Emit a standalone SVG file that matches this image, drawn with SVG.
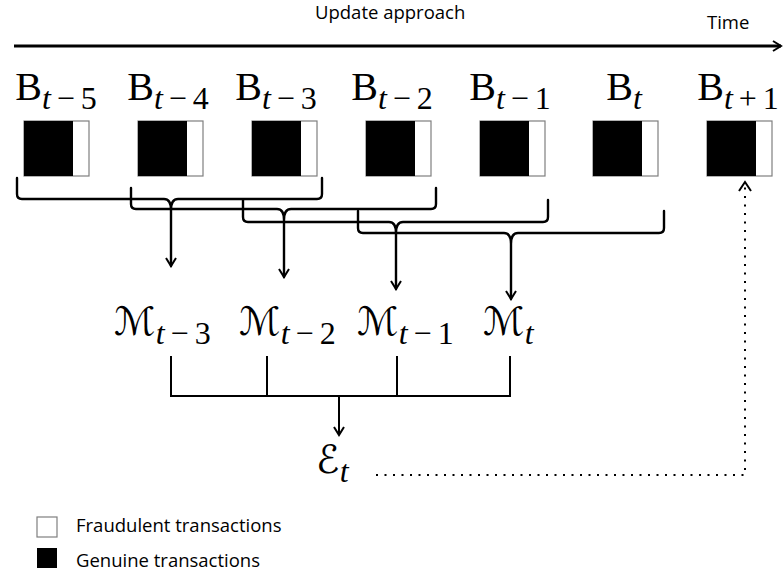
<svg xmlns="http://www.w3.org/2000/svg" width="784" height="576" viewBox="0 0 784 576">
  <style>
    .ui { font-family: "Open Sans", "Liberation Sans", sans-serif; fill: #000; }
    .title { font-size: 18.5px; }
    .legend { font-size: 18.5px; }
    .math { font-family: "Liberation Serif", "DejaVu Serif", serif; fill: #000; }
    .big { font-size: 40px; }
    .sub { font-size: 32px; }
    .it { font-style: italic; }
    .script { font-family: "DejaVu Serif", "DejaVu Sans", "Liberation Serif", serif; font-size: 39px; }
    .brace { fill: none; stroke: #000; stroke-width: 2.4; stroke-linecap: round; stroke-linejoin: round; }
    .join { fill: none; stroke: #000; stroke-width: 2; }
    .dots { fill: none; stroke: #000; stroke-width: 2; stroke-dasharray: 2 6.5; }
    .batch-black { fill: #000; }
    .batch-frame { fill: #fff; stroke: #7f7f7f; stroke-width: 1.2; }
  </style>
  <defs>
    <marker id="open-arrow" viewBox="0 0 12 12" refX="10" refY="6" markerWidth="12" markerHeight="12" markerUnits="userSpaceOnUse" orient="auto">
      <path d="M2,1 L10,6 L2,11" fill="none" stroke="#000" stroke-width="2"/>
    </marker>
    <g id="batch">
      <rect class="batch-frame" x="0" y="0" width="65" height="55"/>
      <rect class="batch-black" x="0" y="0" width="49" height="55"/>
    </g>
  </defs>
  <rect width="784" height="576" fill="#fff"/>

  <!-- time axis -->
  <g id="time-axis">
    <text class="ui title" x="315" y="19">Update approach</text>
    <text class="ui title" x="707" y="29">Time</text>
    <line x1="14" y1="46" x2="781" y2="46" stroke="#000" stroke-width="3" marker-end="url(#open-arrow)"/>
  </g>

  <!-- batches -->
  <g id="batch-t-5">
    <text class="math big" x="56" y="100" text-anchor="middle">B<tspan class="sub" dy="9"><tspan class="it">t</tspan><tspan dx="6">−</tspan><tspan dx="6">5</tspan></tspan></text>
    <use href="#batch" x="24" y="121"/>
  </g>
  <g id="batch-t-4">
    <text class="math big" x="168" y="100" text-anchor="middle">B<tspan class="sub" dy="9"><tspan class="it">t</tspan><tspan dx="6">−</tspan><tspan dx="6">4</tspan></tspan></text>
    <use href="#batch" x="138" y="121"/>
  </g>
  <g id="batch-t-3">
    <text class="math big" x="276" y="100" text-anchor="middle">B<tspan class="sub" dy="9"><tspan class="it">t</tspan><tspan dx="6">−</tspan><tspan dx="6">3</tspan></tspan></text>
    <use href="#batch" x="252" y="121"/>
  </g>
  <g id="batch-t-2">
    <text class="math big" x="392" y="100" text-anchor="middle">B<tspan class="sub" dy="9"><tspan class="it">t</tspan><tspan dx="6">−</tspan><tspan dx="6">2</tspan></tspan></text>
    <use href="#batch" x="366" y="121"/>
  </g>
  <g id="batch-t-1">
    <text class="math big" x="510" y="100" text-anchor="middle">B<tspan class="sub" dy="9"><tspan class="it">t</tspan><tspan dx="6">−</tspan><tspan dx="6">1</tspan></tspan></text>
    <use href="#batch" x="480" y="121"/>
  </g>
  <g id="batch-t">
    <text class="math big" x="624" y="100" text-anchor="middle">B<tspan class="sub it" dy="9">t</tspan></text>
    <use href="#batch" x="593" y="121"/>
  </g>
  <g id="batch-t+1">
    <text class="math big" x="738" y="100" text-anchor="middle">B<tspan class="sub" dy="9"><tspan class="it">t</tspan><tspan dx="6">+</tspan><tspan dx="6">1</tspan></tspan></text>
    <use href="#batch" x="707" y="121"/>
  </g>

  <!-- models -->
  <g id="model-t-3">
    <text class="script" x="114" y="335">ℳ<tspan class="math sub" dy="9"><tspan class="it">t</tspan><tspan dx="6">−</tspan><tspan dx="6">3</tspan></tspan></text>
  </g>
  <g id="model-t-2">
    <text class="script" x="239" y="335">ℳ<tspan class="math sub" dy="9"><tspan class="it">t</tspan><tspan dx="6">−</tspan><tspan dx="6">2</tspan></tspan></text>
  </g>
  <g id="model-t-1">
    <text class="script" x="357" y="335">ℳ<tspan class="math sub" dy="9"><tspan class="it">t</tspan><tspan dx="6">−</tspan><tspan dx="6">1</tspan></tspan></text>
  </g>
  <g id="model-t">
    <text class="script" x="483" y="335">ℳ<tspan class="math sub it" dy="9">t</tspan></text>
  </g>

  <!-- ensemble -->
  <g id="ensemble-t">
    <text class="script" x="316" y="473" font-size="48">ℰ<tspan class="math sub it" dy="9">t</tspan></text>
  </g>

  <!-- connectors -->
  <g id="connectors">
    <!-- windows of four batches grouped into each model -->
    <path class="brace" d="M17,178 L17,194 Q17,199 22,199 L164,199 Q171,199 171,210 M322,178 L322,194 Q322,199 317,199 L178,199 Q171,199 171,210 L171,266" marker-end="url(#open-arrow)"/>
    <path class="brace" d="M131,188 L131,204 Q131,209 136,209 L277,209 Q284,209 284,220 M436,188 L436,204 Q436,209 431,209 L291,209 Q284,209 284,220 L284,277" marker-end="url(#open-arrow)"/>
    <path class="brace" d="M243,200 L243,217 Q243,222 248,222 L389,222 Q396,222 396,233 M548,200 L548,217 Q548,222 543,222 L403,222 Q396,222 396,233 L396,289" marker-end="url(#open-arrow)"/>
    <path class="brace" d="M358,211 L358,228 Q358,233 363,233 L504,233 Q511,233 511,244 M664,211 L664,228 Q664,233 659,233 L518,233 Q511,233 511,244 L511,299" marker-end="url(#open-arrow)"/>
    <!-- models combined into the ensemble -->
    <path class="join" d="M171,356 L171,396 L510,396 L510,356 M267,356 L267,396 M397,356 L397,396"/>
    <line class="join" x1="339" y1="396" x2="339" y2="435" marker-end="url(#open-arrow)"/>
    <!-- ensemble applied to the next batch -->
    <path class="dots" d="M376,475 L745,475 L745,186"/>
    <path d="M739,191 L745,182 L751,191" fill="none" stroke="#000" stroke-width="2"/>
  </g>

  <!-- legend -->
  <g id="legend">
    <rect x="37" y="517" width="20" height="20" fill="#fff" stroke="#7f7f7f" stroke-width="1.2"/>
    <text class="ui legend" x="76" y="532">Fraudulent transactions</text>
    <rect x="37" y="548" width="20" height="20" fill="#000"/>
    <text class="ui legend" x="76" y="567">Genuine transactions</text>
  </g>
</svg>
